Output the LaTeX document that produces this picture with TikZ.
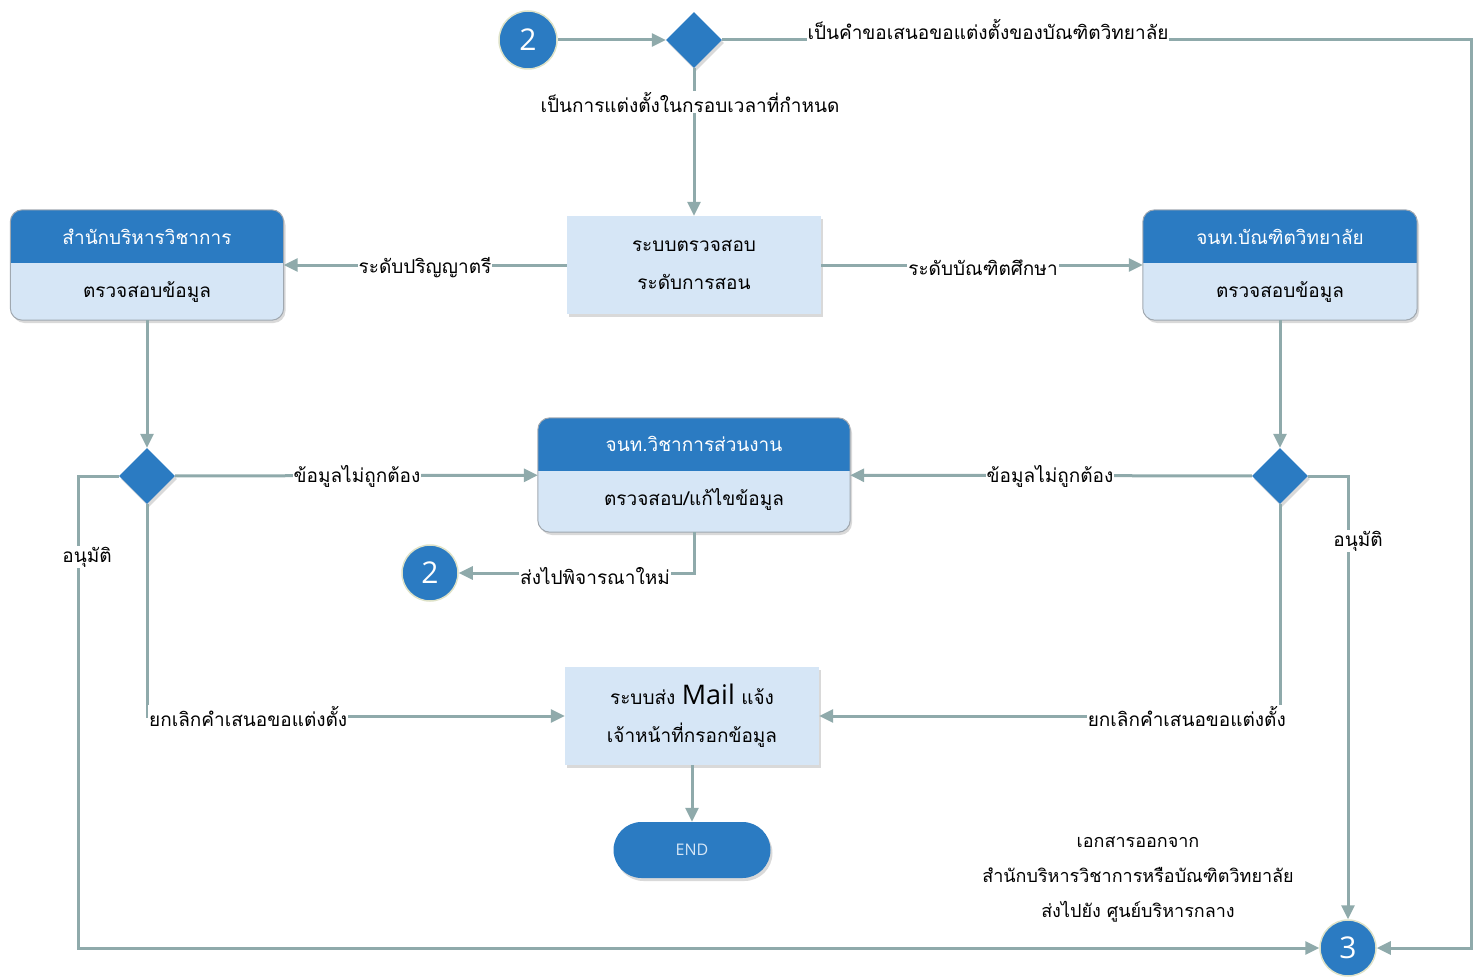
\documentclass[tikz,border=0pt]{standalone}
\usepackage{fontspec}
\setmainfont[Script=Thai]{Loma}
\newfontfamily\latinsf{Open Sans}
\usetikzlibrary{arrows.meta,shapes.geometric,shadows}
\definecolor{dkblue}{RGB}{43,123,194}
\definecolor{ltblue}{RGB}{214,230,246}
\definecolor{wire}{RGB}{143,170,171}
\definecolor{rim}{RGB}{160,168,176}
\definecolor{glow}{RGB}{222,226,200}

\begin{document}
\begin{tikzpicture}[x=1pt,y=-1pt,
  line/.style={draw=wire, line width=3pt},
  connector/.style={line, -{Triangle[length=14pt,width=13pt]}},
  lbl/.style={fill=white, inner sep=1pt, font=\fontsize{19}{22}\selectfont},
  soft/.style={drop shadow={opacity=0.3, shadow xshift=2pt, shadow yshift=-3pt}},
  plainbox/.style={soft, fill=ltblue, minimum width=254pt, minimum height=98pt,
    align=center, font=\fontsize{19}{38}\selectfont},
  panelbox/.style={soft, fill=ltblue, rounded corners=12pt},
  headtxt/.style={text=white, font=\fontsize{19}{22}\selectfont},
  bodytxt/.style={font=\fontsize{19}{22}\selectfont},
  decide/.style={diamond, fill=dkblue, minimum width=56pt, minimum height=56pt,
    inner sep=0pt, soft},
  joint/.style={circle, fill=dkblue, draw=glow, line width=1.5pt, minimum size=58pt,
    inner sep=0pt, text=white, font=\latinsf\fontsize{30}{30}\selectfont},
  endpill/.style={soft, fill=dkblue, rounded corners=28pt, minimum width=157pt,
    minimum height=56pt, text=ltblue, font=\latinsf\fontsize{16}{16}\selectfont}]
  \useasboundingbox (0,0) rectangle (1473,979);

  % entry
  \node[joint] (two) at (528,40) {2};
  \node[decide] (top) at (694,40) {};
  \node[plainbox] (level) at (694,265) {ระบบตรวจสอบ\\ระดับการสอน};

  % panels with a dark header
  \node[panelbox, minimum width=273pt, minimum height=110pt] (sao) at (147,265) {};
  \node[panelbox, minimum width=274pt, minimum height=110pt] (grad) at (1280,265) {};
  \node[panelbox, minimum width=312pt, minimum height=114pt] (dept) at (694,475) {};
  \foreach \p in {sao,grad,dept} {
    \begin{scope}
      \clip[rounded corners=12pt] (\p.south west) rectangle (\p.north east);
      \fill[dkblue] (\p.north west) rectangle ([yshift=-53pt]\p.north east);
    \end{scope}
    \draw[rim, line width=1pt, rounded corners=12pt] (\p.south west) rectangle (\p.north east);
  }
  \node[headtxt] (saoH) at (147,237) {สำนักบริหารวิชาการ};
  \node[bodytxt] (saoB) at (147,292) {ตรวจสอบข้อมูล};
  \node[headtxt] (gradH) at (1280,237) {จนท.บัณฑิตวิทยาลัย};
  \node[bodytxt] (gradB) at (1280,292) {ตรวจสอบข้อมูล};
  \node[headtxt] (deptH) at (694,444) {จนท.วิชาการส่วนงาน};
  \node[bodytxt] (deptB) at (694,499) {ตรวจสอบ/แก้ไขข้อมูล};

  \node[decide] (lchk) at (147,476) {};
  \node[decide] (rchk) at (1280,476) {};
  \node[joint, minimum size=56pt] (two2) at (430,573) {2};
  \node[plainbox] (mail) at (692,716) {ระบบส่ง {\latinsf\fontsize{27}{27}\selectfont Mail} แจ้ง\\เจ้าหน้าที่กรอกข้อมูล};
  \node[endpill] (end) at (692,850) {END};
  \node[joint, minimum size=56pt] (three) at (1348,948) {3};
  \coordinate (ne) at (1471,40);
  \coordinate (se) at (1471,948);
  \coordinate (sw) at (78,948);

  % connectors
  \draw[connector] (two) -- (top);
  \draw[connector] (top.east) -- (ne) -- (se) -- (three);
  \draw[connector] (top) -- (level);
  \draw[connector] (level) -- (sao);
  \draw[connector] (level) -- (grad);
  \draw[connector] (sao) -- (lchk);
  \draw[connector] (grad) -- (rchk);
  \draw[connector] (lchk) -- (dept);
  \draw[connector] (rchk) -- (dept);
  \draw[connector] (lchk.west) -| (sw) -- (three);
  \draw[connector] (rchk.east) -| (three);
  \draw[connector] (lchk) |- (mail);
  \draw[connector] (rchk) |- (mail);
  \draw[connector] (dept) |- (two2);
  \draw[connector] (mail) -- (end);

  % labels
  \node[lbl, anchor=base, text depth=3pt] at (988,40) {เป็นคำขอเสนอขอแต่งตั้งของบัณฑิตวิทยาลัย};
  \node[lbl] at (690,102) {เป็นการแต่งตั้งในกรอบเวลาที่กำหนด};
  \node[lbl] at (425,268) {ระดับปริญญาตรี};
  \node[lbl] at (983,268) {ระดับบัณฑิตศึกษา};
  \node[lbl] at (357,476) {ข้อมูลไม่ถูกต้อง};
  \node[lbl] at (1050,476) {ข้อมูลไม่ถูกต้อง};
  \node[lbl] at (87,557) {อนุมัติ};
  \node[lbl] at (1358,541) {อนุมัติ};
  \node[lbl] at (595,576) {ส่งไปพิจารณาใหม่};
  \node[lbl, anchor=west] at (148,716) {ยกเลิกคำเสนอขอแต่งตั้ง};
  \node[lbl, anchor=east] at (1287,716) {ยกเลิกคำเสนอขอแต่งตั้ง};
  \node[align=center, font=\fontsize{18}{35}\selectfont] (note) at (1138,880)
    {เอกสารออกจาก\\สำนักบริหารวิชาการหรือบัณฑิตวิทยาลัย\\ส่งไปยัง ศูนย์บริหารกลาง};
\end{tikzpicture}
\end{document}
